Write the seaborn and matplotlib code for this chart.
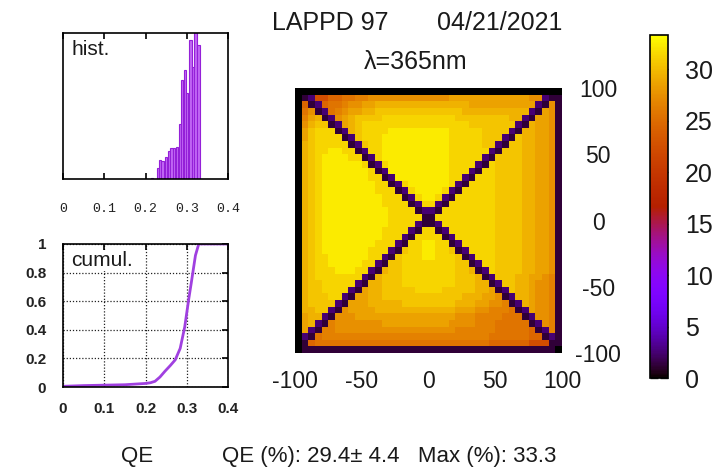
import numpy as np
import matplotlib
matplotlib.use("Agg")
import matplotlib.pyplot as plt
import seaborn as sns

sns.set_theme(style="white")
plt.rcParams["font.family"] = ["Liberation Sans", "DejaVu Sans"]
plt.rcParams["axes.linewidth"] = 1.2

# ---------------------------------------------------------------------------
# Data
# ---------------------------------------------------------------------------
QE_TICKS = [0, 0.1, 0.2, 0.3, 0.4]
QE_TICK_LABELS = ["0", "0.1", "0.2", "0.3", "0.4"]
CUM_TICKS = [0, 0.2, 0.4, 0.6, 0.8, 1.0]
CUM_TICK_LABELS = ["0", "0.2", "0.4", "0.6", "0.8", "1"]
MAP_TICKS = [-100, -50, 0, 50, 100]
CBAR_TICKS = [0, 5, 10, 15, 20, 25, 30]
QE_MAX = 33.3

# histogram of pixel QE (bar centre, height in px of the panel)
HIST_QE = [0.216, 0.230, 0.235, 0.241, 0.250, 0.2565, 0.263, 0.2695, 0.276,
           0.2835, 0.289, 0.295, 0.301, 0.309, 0.315, 0.321, 0.3285]
HIST_N = [1.5, 11, 19, 18, 22, 28, 31, 31, 32, 55, 99, 109, 86, 139, 112, 160, 134]

# cumulative fraction
CUM_QE = [0.0, 0.05, 0.10, 0.15, 0.20, 0.212, 0.223, 0.235, 0.247, 0.26,
          0.272, 0.284, 0.295, 0.305, 0.311, 0.321, 0.329, 0.40]
CUM_FRAC = [0.005, 0.01, 0.013, 0.016, 0.025, 0.03, 0.04, 0.07, 0.11, 0.15,
            0.19, 0.27, 0.42, 0.62, 0.73, 0.92, 1.0, 1.0]

# QE map (%), 40 x 40 cells, top row first; one character per cell
LEVELS = {"K": 0.0, "D": 1.3, "P": 2.6, "r": 22.5, "4": 24.5, "5": 25.5,
          "6": 26.5, "7": 27.5, "8": 28.5, "9": 29.5, "a": 30.5, "b": 31.3,
          "c": 32.3}
QE_MAP = [
    "KKKKKKKKKK" "KKKKKKKKKK" "KKKKKKKKKK" "KKKKKKKKKK",
    "KDP" "rr445566" "777777" "777777" "888888" "888888" "77PDD",
    "K4DP" "45567788" "9999999" "9999999" "88888" "88888" "PD7D",
    "K57DP" "5678899a" "aaaaaa" "aaaaaa" "99999" "99999" "PD87D",
    "K689DP" "789aaaab" "bbbbbbbbbb" "aaaaaaaa99" "PD887D",
    "K79aaDP" "89abbbb" "bbbbbbbbbb" "bbaaaaaaa" "PD9887D",
    "K8abbbDP" "9abbbbc" "cccccccc" "bbbbbaaaa" "PD99887D",
    "K8abbbbDP" "abbbcc" "cccccccc" "bbbbbaaa" "PDa99887D",
    "K9abbbbbDP" "abbcc" "cccccccc" "bbbbbaa" "PDaa99887D",
    "K9abbccbbDP" "bbcc" "cccccccc" "bbbbbb" "PDaaa99887D",
    "K9abccccbbDP" "bcc" "cccccccc" "bbbbb" "PDaaaa99887D",
    "K9abccccccbDP" "bc" "cccccccc" "bbbb" "PDbaaaa99887D",
    "K9abcccccccbDP" "ccccccccc" "bbb" "PDbbaaaa99887D",
    "K9abcccccccbbDP" "ccccccccbb" "PDbbbaaaa99887D",
    "K9abccccccccbbDP" "bccccccb" "PDbbbbaaaa99887D",
    "K9abccccccccbbbDP" "bccccb" "PDbbbbbaaaa99887D",
    "K9abcccccccccbbbDP" "bccb" "PDbbbbbbaaaa99887D",
    "K9abcccccccccbbbbDP" "bb" "PDbbbbbbbaaaa99887D",
    "K9abccccccccccbbbbDP" "PDbbbbbbbbaaaa99887D",
    "K9abccccccccccbbbbbDD" "bbbbbbbbbaaaa99887D",
    "K9abccccccccccbbbbPDDP" "bbbbbbbbaaaa99887D",
    "K9abcccccccccbbbbPD" "bb" "DPbbbbbbbaaaa99887D",
    "K9abcccccccccbbbPD" "bbbb" "DPbbbbbbaaaa99887D",
    "K9abccccccccbbbPD" "bbccbb" "DPbbbbbaaaa99887D",
    "K9abcccccccbbbPD" "abbccbba" "DPbbbbaaaa99887D",
    "K9abbccccccbbPD" "abbbccbbba" "DPbbbaaaa99887D",
    "K9abbcccccbbPD" "aabbbbbbbbaa" "DPbbaaaa99887D",
    "K9abbbcccbbPD" "9aabbbbbbbbaa9" "DPbaaaa99887D",
    "K9abbbbbbbPD" "9aaabbbbbbbbaaa9" "DPaaa998876D",
    "K9aabbbbbPD" "99aaabbbbbbbbaaa99" "DPaa998776D",
    "K9aabbbbPD" "899aaaaabbbbaaaaa998" "DPa998776D",
    "K9aaabbPD" "8899aaaaaaaaaaaa999887" "DP998776D",
    "K9aaaaPD" "88899999aaaaaaaa99988776" "DP98776D",
    "K99aaPD" "78888" "999999" "999999" "888" "776665" "DP8776D",
    "K899PD" "777" "88888" "88888" "88888" "777" "6666" "555" "DP776D",
    "K89PD" "6777" "7777" "88888" "88888" "7777" "666" "55555" "DP76D",
    "K8PD" "66" "777777" "777777" "777777" "666666" "55555" "4" "DP6D",
    "KPD" "56" "666666" "666666" "666666" "666666" "555555" "44" "DPD",
    "KD4" "55555" "55555" "55555" "55555" "55555" "5" "444444" "rrr" "DD",
    "K" "DDDDDDDDDD" "DDDDDDDDDD" "DDDDDDDDDD" "DDDDDDDD" "K",
]
for i, row in enumerate(QE_MAP):
    assert len(row) == 40, (i, len(row))
qe = np.array([[LEVELS[ch] for ch in row] for row in QE_MAP])
n = qe.shape[0]

PURPLE = "#a040e0"
TXT = "#1a1a1a"

fig = plt.figure(figsize=(7.26, 4.69), dpi=100)

# ---------------------------------------------------------------------------
# histogram panel
# ---------------------------------------------------------------------------
ax_h = fig.add_axes([0.0868, 0.6183, 0.2273, 0.3113])
ax_h.bar(HIST_QE, HIST_N, width=0.0055, color="#c268f5", edgecolor="#9420d8", lw=0.8)
ax_h.set_xlim(0, 0.4)
ax_h.set_ylim(0, 146)
ax_h.set_yticks([])
ax_h.set_xticks(QE_TICKS)
ax_h.set_xticklabels(QE_TICK_LABELS, family="Liberation Mono", fontsize=9.5, color="#222")
ax_h.tick_params(axis="x", direction="in", top=True, bottom=True, length=4, width=1.2,
                 color="black", pad=17)
for s in ax_h.spines.values():
    s.set_color("black")
ax_h.text(0.05, 0.95, "hist.", transform=ax_h.transAxes, ha="left", va="top",
          fontsize=15, color=TXT)

# ---------------------------------------------------------------------------
# cumulative panel
# ---------------------------------------------------------------------------
ax_c = fig.add_axes([0.0868, 0.1748, 0.2273, 0.3050])
sns.lineplot(x=CUM_QE, y=CUM_FRAC, ax=ax_c, color=PURPLE, lw=2)
ax_c.set_xlim(0, 0.4)
ax_c.set_ylim(0, 1)
ax_c.set_xticks(QE_TICKS)
ax_c.set_xticklabels(QE_TICK_LABELS)
ax_c.set_yticks(CUM_TICKS)
ax_c.set_yticklabels(CUM_TICK_LABELS)
ax_c.grid(True, ls=(0, (1, 1.5)), color="#222", lw=0.9)
ax_c.tick_params(direction="in", top=True, right=True, length=4, width=1.2,
                 color="black", labelsize=11, labelcolor="#222")
ax_c.tick_params(axis="x", pad=11)
ax_c.tick_params(axis="y", pad=12)
for lab in ax_c.get_xticklabels() + ax_c.get_yticklabels():
    lab.set_fontweight("bold")
for s in ax_c.spines.values():
    s.set_color("black")
ax_c.text(0.05, 0.95, "cumul.", transform=ax_c.transAxes, ha="left", va="top",
          fontsize=15, color=TXT, bbox=dict(facecolor="white", edgecolor="none", pad=0.5))

# ---------------------------------------------------------------------------
# QE map + colour bar
# ---------------------------------------------------------------------------
ax_m = fig.add_axes([0.4063, 0.2473, 0.3678, 0.5650])
cax = fig.add_axes([0.8953, 0.1940, 0.0248, 0.7313])
sns.heatmap(qe, ax=ax_m, cbar_ax=cax, cmap="gnuplot", vmin=0, vmax=QE_MAX,
            xticklabels=False, yticklabels=False, rasterized=True)
ax_m.set_xticks([(v + 100) / 200 * n for v in MAP_TICKS])
ax_m.set_xticklabels([str(v) for v in MAP_TICKS])
ax_m.set_yticks([(100 - v) / 200 * n for v in MAP_TICKS])
ax_m.set_yticklabels([str(v) for v in MAP_TICKS])
ax_m.yaxis.tick_right()
ax_m.tick_params(axis="both", length=0, labelsize=16.5, labelcolor=TXT)
ax_m.tick_params(axis="x", pad=12)
ax_m.tick_params(axis="y", pad=26)
for lab in ax_m.get_yticklabels():
    lab.set_ha("center")
for s in ax_m.spines.values():
    s.set_visible(False)

cbar = ax_m.collections[0].colorbar
cbar.set_ticks(CBAR_TICKS)
cbar.outline.set_visible(True)
cbar.outline.set_edgecolor("black")
cbar.outline.set_linewidth(1.2)
cax.tick_params(direction="in", left=True, right=True, length=6, width=1,
                color="#222", labelsize=18, labelcolor=TXT, pad=12)

# ---------------------------------------------------------------------------
# texts
# ---------------------------------------------------------------------------
fig.text(330 / 726, 1 - 23 / 469, "LAPPD 97", ha="center", va="center", fontsize=18, color=TXT)
fig.text(500 / 726, 1 - 23 / 469, "04/21/2021", ha="center", va="center", fontsize=18, color=TXT)
fig.text(416 / 726, 1 - 62 / 469, "λ=365nm", ha="center", va="center", fontsize=18, color=TXT)
fig.text(137 / 726, 1 - 456 / 469, "QE", ha="center", va="center", fontsize=16, color=TXT)
fig.text(389 / 726, 1 - 456 / 469, "QE (%): 29.4± 4.4   Max (%): 33.3",
         ha="center", va="center", fontsize=16, color=TXT)

fig.savefig("out.png", dpi=100)
